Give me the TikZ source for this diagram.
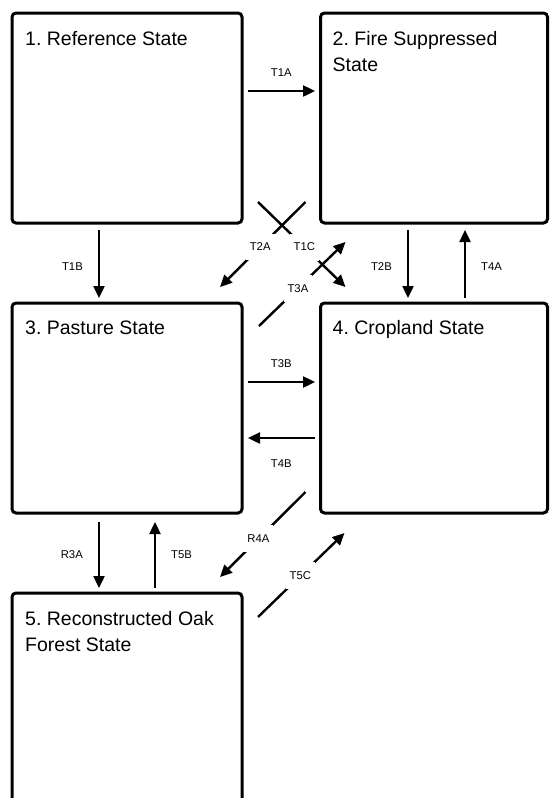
\documentclass[tikz,border=0pt]{standalone}
\usepackage{fontspec}
\setmainfont{Liberation Sans}
\usetikzlibrary{arrows.meta,calc}

\begin{document}
\begin{tikzpicture}[x=1pt,y=-1pt,>={Triangle[length=12pt,width=11pt]},
    state/.style={draw,line width=3pt,rounded corners=4pt,outer sep=0pt,inner sep=0pt,minimum width=230pt,minimum height=210pt},
    statetext/.style={anchor=base west,align=left,inner sep=0pt,font=\fontsize{19.5}{26}\selectfont\frenchspacing},
    trans/.style={->,line width=2.4pt},
    tlabel/.style={inner sep=0pt,font=\fontsize{11.3}{13}\selectfont},
    tcross/.style={fill=white,inner xsep=4pt,inner ysep=9.5pt,font=\fontsize{11.3}{13}\selectfont}]
      \useasboundingbox (0,0) rectangle (550,798);
      \clip (0,0) rectangle (550,798);
      % states
      \node[state] (s1) at (127,118) {};
      \node[state,minimum width=227pt] (s2) at (434,118) {};
      \node[state] (s3) at (127,408) {};
      \node[state,minimum width=227pt] (s4) at (434,408) {};
      \node[state,minimum height=240pt] (s5) at (127,713) {};
      % base of a two-line text is its second line
      \node[statetext] (n1) at ($(s1.north west)+(13,32)$) {1. Reference State};
      \node[statetext] (n2) at ($(s2.north west)+(12,58)$) {2. Fire Suppressed\\State};
      \node[statetext] (n3) at ($(s3.north west)+(13,31)$) {3. Pasture State};
      \node[statetext] (n4) at ($(s4.north west)+(12,31)$) {4. Cropland State};
      \node[statetext] (n5) at ($(s5.north west)+(13,58)$) {5. Reconstructed Oak\\Forest State};
      % transitions
      \draw[trans,shorten <=6pt,shorten >=5.5pt] ([yshift=27pt]s1.east) -- node[tlabel,above=13pt] {T1A} ([yshift=27pt]s2.west);
      \draw[trans,shorten <=6pt,shorten >=5.5pt] ([yshift=26pt]s3.east) -- node[tlabel,above=13pt] {T3B} ([yshift=26pt]s4.west);
      \draw[trans,shorten <=5.5pt,shorten >=6pt] ([yshift=-30pt]s4.west) -- node[tlabel,below=21pt] {T4B} ([yshift=-30pt]s3.east);
      \draw[trans,shorten <=7pt,shorten >=5pt] ([xshift=-28pt]s1.south) -- node[tlabel,left=15pt,yshift=-4pt] {T1B} ([xshift=-28pt]s3.north);
      \draw[trans,shorten <=7pt,shorten >=5pt] ([xshift=-26pt]s2.south) -- node[tlabel,left=15pt,yshift=-4pt] {T2B} ([xshift=-26pt]s4.north);
      \draw[trans,shorten <=5pt,shorten >=7pt] ([xshift=31pt]s4.north) -- node[tlabel,right=15pt,yshift=-4pt] {T4A} ([xshift=31pt]s2.south);
      \draw[trans,shorten <=9pt,shorten >=5pt] ([xshift=-28pt]s3.south) -- node[tlabel,left=15pt,yshift=-2pt] {R3A} ([xshift=-28pt]s5.north);
      \draw[trans,shorten <=5pt,shorten >=9pt] ([xshift=28pt]s5.north) -- node[tlabel,right=15pt,yshift=-2pt] {T5B} ([xshift=28pt]s3.south);
      \draw[trans] ($(s2.south west)+(-15,-21)$) -- node[tcross,pos=.53] {T2A} ($(s3.north east)+(-22,-16)$);
      \draw[trans] ($(s1.south east)+(16,-21)$) -- node[tcross,pos=.53] {T1C} ($(s4.north west)+(25,-16)$);
      \draw[trans] ($(s3.north east)+(17,23)$) -- node[tcross,pos=.45] {T3A} ($(s2.south west)+(25,19)$);
      \draw[trans] ($(s4.south west)+(-15,-21)$) -- node[tcross,pos=.55] {R4A} ($(s5.north east)+(-22,-16)$);
      \draw[trans] ($(s5.north east)+(16,24)$) -- node[tcross,pos=.49] {T5C} ($(s4.south west)+(24,20)$);
    \end{tikzpicture}
\end{document}
